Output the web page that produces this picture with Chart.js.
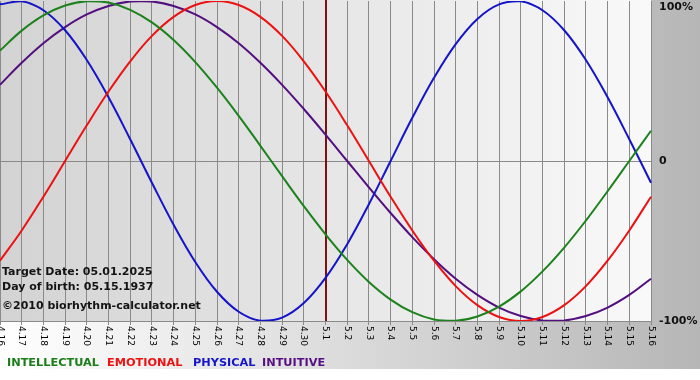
<!DOCTYPE html>
<html>
<head>
<meta charset="utf-8">
<script src="https://cdn.jsdelivr.net/npm/chart.js@4/dist/chart.umd.min.js"></script>
<style>
  html, body { margin: 0; padding: 0; background: #ffffff; }
  canvas { display: block; }
</style>
</head>
<body>
<canvas id="c" width="700" height="380"></canvas>
<script>
// ---- data ----
const dates = ['4.16','4.17','4.18','4.19','4.20','4.21','4.22','4.23','4.24','4.25','4.26','4.27','4.28','4.29','4.30',
               '5.1','5.2','5.3','5.4','5.5','5.6','5.7','5.8','5.9','5.10','5.11','5.12','5.13','5.14','5.15','5.16'];
const intellectual = [0.690,0.815,0.910,0.972,0.999,0.990,0.945,0.866,0.756,0.618,0.458,0.282,0.095,-0.095,-0.282,
                      -0.458,-0.618,-0.756,-0.866,-0.945,-0.990,-0.999,-0.972,-0.910,-0.815,-0.690,-0.541,-0.372,-0.189,0.000,0.189];
const emotional = [-0.623,-0.434,-0.223,0.000,0.223,0.434,0.623,0.782,0.901,0.975,1.000,0.975,0.901,0.782,0.623,
                   0.434,0.223,0.000,-0.223,-0.434,-0.623,-0.782,-0.901,-0.975,-1.000,-0.975,-0.901,-0.782,-0.623,-0.434,-0.223];
const physical = [0.979,0.998,0.942,0.817,0.631,0.398,0.136,-0.136,-0.398,-0.631,-0.817,-0.942,-0.998,-0.979,-0.888,
                  -0.731,-0.520,-0.270,0.000,0.270,0.520,0.731,0.888,0.979,0.998,0.942,0.817,0.631,0.398,0.136,-0.136];
const intuitive = [0.476,0.614,0.736,0.837,0.916,0.969,0.997,0.997,0.969,0.916,0.837,0.736,0.614,0.476,0.325,
                   0.165,0.000,-0.165,-0.325,-0.476,-0.614,-0.736,-0.837,-0.916,-0.969,-0.997,-0.997,-0.969,-0.916,-0.837,-0.736];
const yTickValues = [-1, 0, 1];
const yTickLabels = ['-100%', '0', '100%'];
const targetDate = '5.1';
const seriesNames = ['INTELLECTUAL', 'EMOTIONAL', 'PHYSICAL', 'INTUITIVE'];
const infoLines = ['Target Date: 05.01.2025', 'Day of birth: 05.15.1937', '\u00A92010 biorhythm-calculator.net'];

// ---- styling ----
const colors = { intellectual: '#1c821c', emotional: '#ec1111', physical: '#1414c8', intuitive: '#530e80' };
const legendColors = ['#1a7d1a', '#ee1111', '#1515cc', '#560f82'];
const gridColor = '#8a8a8a';

const decorPlugin = {
  id: 'decor',
  beforeDraw(chart) {
    const { ctx, chartArea: a, width, height } = chart;
    ctx.save();
    ctx.fillStyle = '#ffffff';
    ctx.fillRect(0, 0, width, height);
    let g = ctx.createLinearGradient(0, 0, width, 0);
    g.addColorStop(0, '#ffffff');
    g.addColorStop(1, '#b6b6b6');
    ctx.fillStyle = g;
    ctx.fillRect(0, 0, width, 369);
    g = ctx.createLinearGradient(a.left, 0, a.right, 0);
    g.addColorStop(0, '#d3d3d3');
    g.addColorStop(1, '#f9f9f9');
    ctx.fillStyle = g;
    ctx.fillRect(a.left, 0, a.right - a.left, a.bottom);
    ctx.restore();
  },
  beforeDatasetsDraw(chart) {
    const { ctx, chartArea: a, scales } = chart;
    const x = Math.round(scales.x.getPixelForValue(dates.indexOf(targetDate)));
    ctx.save();
    ctx.strokeStyle = '#7a1212';
    ctx.lineWidth = 2;
    ctx.beginPath();
    ctx.moveTo(x, 0);
    ctx.lineTo(x, a.bottom);
    ctx.stroke();
    ctx.restore();
  },
  afterDraw(chart) {
    const { ctx, chartArea: a, scales } = chart;
    const xs = scales.x, ys = scales.y;
    ctx.save();
    // x labels, rotated clockwise
    ctx.font = '9px "DejaVu Sans"';
    ctx.fillStyle = '#000000';
    ctx.textAlign = 'left';
    ctx.textBaseline = 'middle';
    xs.ticks.forEach((t, i) => {
      const x = xs.getPixelForTick(i);
      ctx.save();
      ctx.translate(x, a.bottom + 5);
      ctx.rotate(Math.PI / 2);
      ctx.fillText(xs.getLabelForValue(t.value), 0, 0);
      ctx.restore();
    });
    // y labels on the right
    ctx.font = 'bold 11px "DejaVu Sans"';
    ctx.fillStyle = '#111111';
    ctx.textAlign = 'left';
    ctx.textBaseline = 'middle';
    yTickValues.forEach((v, i) => {
      let y = ys.getPixelForValue(v);
      y = Math.max(y, 7);
      ctx.fillText(yTickLabels[i], a.right + 8, y + 0.5);
    });
    // info text
    ctx.font = 'bold 11px "DejaVu Sans"';
    ctx.fillStyle = '#141414';
    ctx.textBaseline = 'alphabetic';
    ctx.fillText(infoLines[0], 2, 275);
    ctx.fillText(infoLines[1], 2, 290);
    ctx.fillText(infoLines[2], 2, 309);
    // legend
    ctx.font = 'bold 11.3px "DejaVu Sans"';
    const lx = [7, 107, 193, 262];
    seriesNames.forEach((n, i) => {
      ctx.fillStyle = legendColors[i];
      ctx.fillText(n, lx[i], 366);
    });
    ctx.restore();
  }
};

new Chart(document.getElementById('c'), {
  type: 'line',
  data: {
    labels: dates,
    datasets: [
      { label: 'INTELLECTUAL', data: intellectual, borderColor: colors.intellectual },
      { label: 'EMOTIONAL', data: emotional, borderColor: colors.emotional },
      { label: 'PHYSICAL', data: physical, borderColor: colors.physical },
      { label: 'INTUITIVE', data: intuitive, borderColor: colors.intuitive }
    ]
  },
  options: {
    responsive: false,
    animation: false,
    devicePixelRatio: 1,
    layout: { padding: { left: 0, right: 49, top: 1, bottom: 55 } },
    elements: {
      line: { borderWidth: 2, tension: 0.4, fill: false },
      point: { radius: 0, hoverRadius: 0 }
    },
    plugins: { legend: { display: false }, tooltip: { enabled: false } },
    scales: {
      x: {
        type: 'category',
        offset: false,
        border: { display: false },
        grid: { color: gridColor, lineWidth: 1, drawTicks: true, tickLength: 4, tickColor: gridColor, offset: false },
        ticks: { display: false, autoSkip: false }
      },
      y: {
        position: 'right',
        min: -1,
        max: 1,
        border: { display: false },
        afterBuildTicks: (s) => { s.ticks = yTickValues.map(v => ({ value: v })); },
        grid: {
          drawTicks: false,
          lineWidth: 1,
          color: (c) => (c.tick && c.tick.value === 1 ? 'rgba(0,0,0,0)' : gridColor)
        },
        ticks: { display: false }
      }
    }
  },
  plugins: [decorPlugin]
});
</script>
</body>
</html>
